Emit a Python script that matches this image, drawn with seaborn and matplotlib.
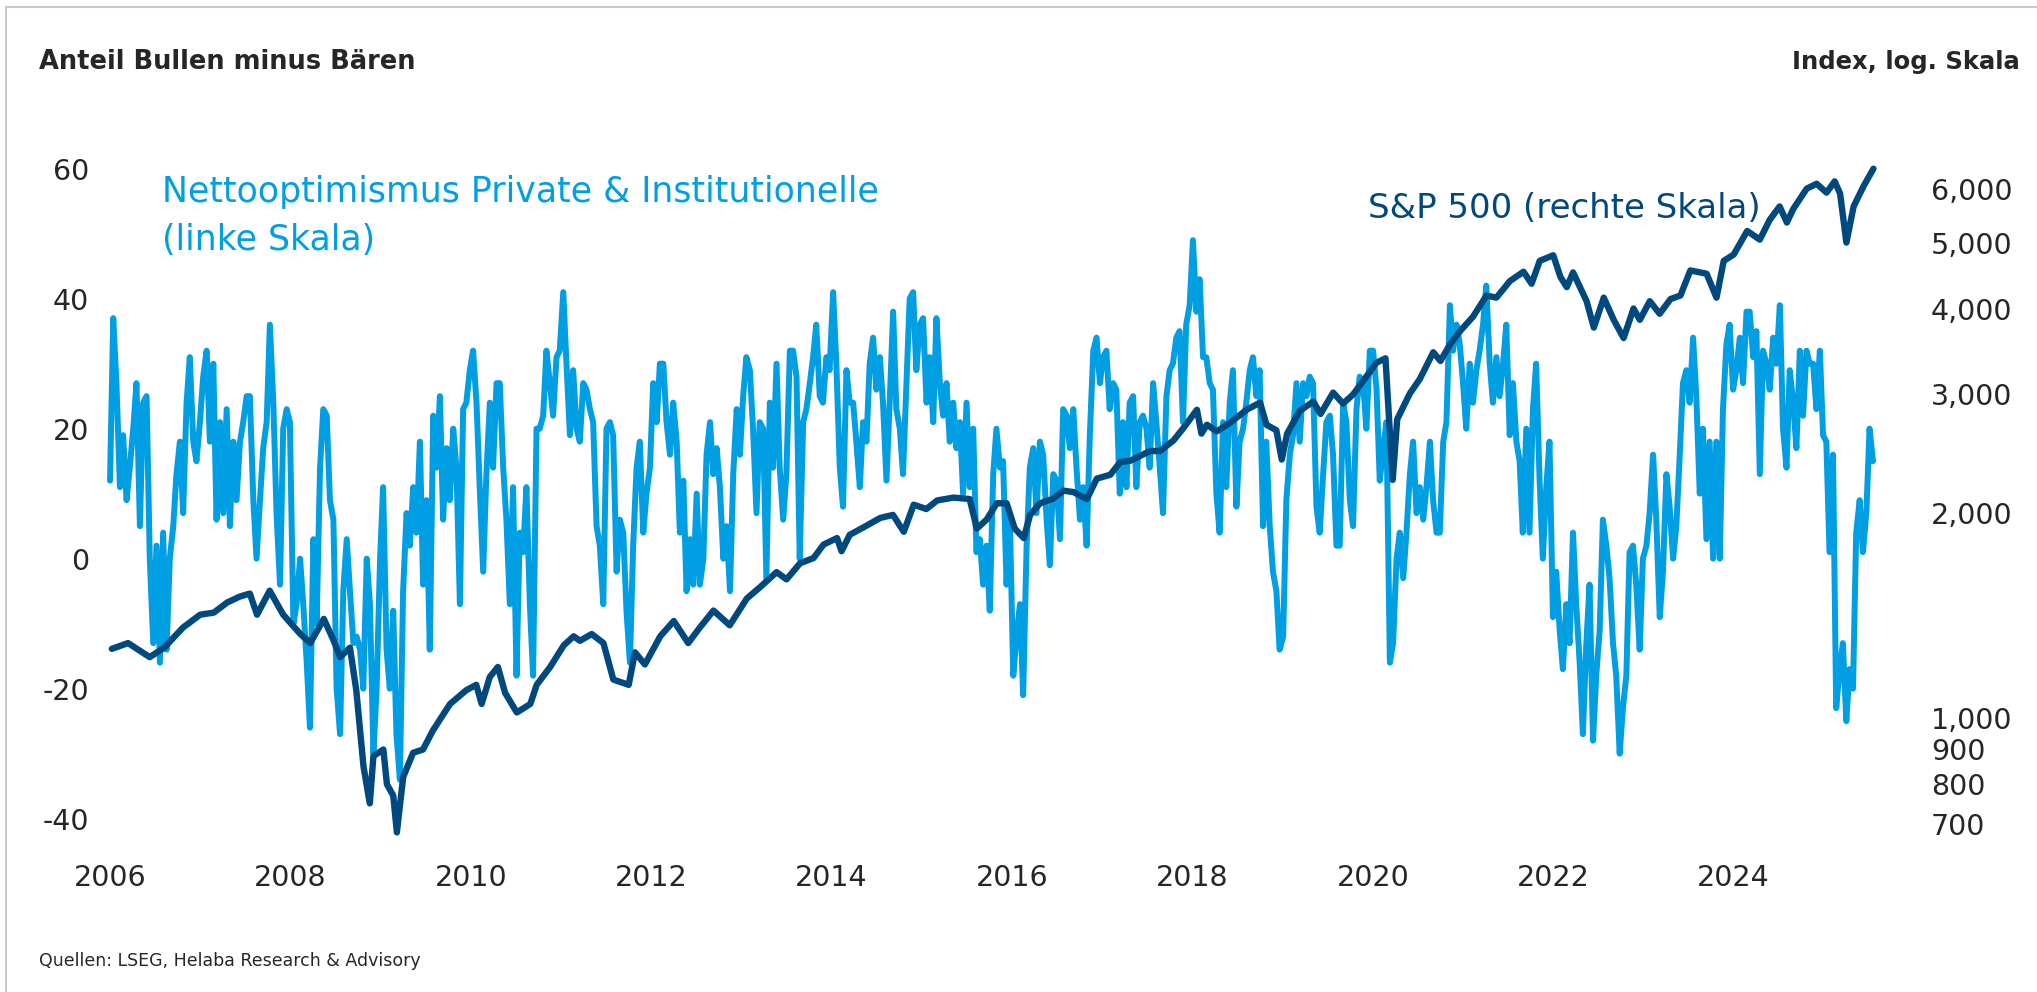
import numpy as np
import pandas as pd
import seaborn as sns
import matplotlib as mpl
import matplotlib.pyplot as plt
from matplotlib import ticker
from matplotlib.lines import Line2D

# === STYLE ===
sns.set_style('white')
mpl.rcParams.update({
    'font.family': ['DejaVu Sans'],
    'font.size': 20,
    'axes.unicode_minus': False,
})
LIGHT = '#009FE3'
DARK = '#00497E'

# === DATA ===
# net optimism (bulls minus bears), roughly biweekly readings
sent_2006_2010 = [
    12, 37, 27, 11, 19, 9, 14, 20, 27, 5,
    24, 25, 0, -13, 2, -16, 4, -14, 0, 5,
    13, 18, 7, 24, 31, 18, 15, 21, 28, 32,
    18, 30, 6, 21, 7, 23, 5, 18, 9, 18,
    21, 25, 25, 9, 0, 9, 17, 21, 36, 24,
    7, -4, 20, 23, 21, -10, -7, 0, -7, -16,
    -26, 3, -10, 14, 23, 22, 9, 6, -20, -27,
    -5, 3, -5, -13, -12, -14, -20, 0, -7, -30,
    -20, 0, 11, -14, -20, -8, -27, -34, -5, 7,
    2, 11, 4, 18, -4, 9, -14, 22, 14, 25,
    6, 17, 9, 20, 14, -7, 23, 24, 29, 32,
    24, 11, -2, 13, 24, 14, 27, 27, 14, 6,
    -7, 11, -18, 4, 1, 11, -7, -18, 20, 20,
    22, 32, 27, 22, 31]
sent_2011_2015 = [
    32, 41, 30, 19, 29, 20, 18, 27, 26, 23,
    21, 5, 2, -7, 20, 21, 19, -2, 6, 4,
    -8, -16, 2, 14, 18, 4, 10, 14, 27, 21,
    30, 30, 21, 16, 24, 18, 4, 12, -5, 3,
    -4, 10, -4, 0, 16, 21, 13, 17, 11, 0,
    5, -5, 13, 23, 16, 25, 31, 29, 20, 7,
    21, 20, -3, 24, 14, 30, 14, 6, 13, 32,
    32, 28, 0, 21, 23, 27, 31, 36, 25, 24,
    31, 29, 41, 30, 14, 8, 29, 24, 24, 18,
    11, 21, 18, 30, 34, 26, 31, 24, 12, 24,
    38, 23, 20, 13, 27, 40, 41, 29, 36, 37,
    24, 31, 21, 37, 27, 22, 27, 18, 24, 17,
    21, 10, 24, 11, 20, 1, 3, -4, 2, -8,
    13, 20, 14, 15, -4, 7, -18, -12]
sent_2016_2020 = [
    -7, -21, 2, 14, 17, 7, 18, 16, 6, -1,
    13, 12, 3, 23, 22, 17, 23, 14, 6, 11,
    2, 19, 32, 34, 27, 31, 32, 23, 27, 26,
    10, 21, 11, 24, 25, 11, 21, 22, 20, 14,
    27, 21, 14, 7, 25, 29, 30, 34, 35, 21,
    36, 39, 49, 38, 43, 31, 31, 27, 26, 10,
    4, 21, 11, 24, 29, 8, 18, 20, 24, 29,
    31, 25, 29, 5, 18, 5, -2, -5, -14, -12,
    9, 16, 19, 27, 18, 27, 25, 28, 27, 8,
    4, 13, 21, 22, 16, 2, 2, 24, 21, 9,
    5, 23, 28, 27, 20, 32, 32, 26, 12, 17,
    21, -16, -13, 0, 4, -3, 4, 13, 18, 7,
    11, 6, 11, 18, 9, 4]
sent_2020_2025 = [
    4, 18, 21, 39, 32, 36, 33, 27, 20, 30,
    24, 29, 32, 36, 42, 30, 24, 31, 25, 30,
    36, 19, 27, 18, 15, 4, 20, 4, 23, 30,
    12, 0, 11, 18, -9, -2, -11, -17, -7, -13,
    4, -7, -16, -27, -13, -4, -28, -18, -11, 6,
    2, -3, -13, -18, -30, -23, -18, 1, 2, -4,
    -14, 0, 2, 7, 16, 6, -9, -2, 13, 8,
    0, 5, 16, 27, 29, 24, 34, 25, 10, 20,
    3, 18, 0, 18, 0, 23, 33, 36, 26, 29,
    34, 27, 38, 38, 31, 35, 13, 32, 30, 26,
    34, 30, 39, 20, 14, 29, 24, 17, 32, 22,
    32, 30, 30, 23, 32, 19, 18, 1, 16, -23,
    -17, -13, -25, -17, -20, 4, 9, 1, 7, 20,
    15]
sent_first, sent_last = '2006-01-01', '2025-07-19'

# S&P 500, decimal year / index level
spx_year = [
    2006.02, 2006.20, 2006.44, 2006.60, 2006.81,
    2007.00, 2007.15, 2007.30, 2007.44, 2007.55, 2007.63, 2007.77, 2007.92,
    2008.11, 2008.22, 2008.37, 2008.48, 2008.55, 2008.66, 2008.73, 2008.81, 2008.88, 2008.92,
    2009.03, 2009.07, 2009.14, 2009.18, 2009.25, 2009.36, 2009.47, 2009.58, 2009.77, 2009.95,
    2010.06, 2010.12, 2010.21, 2010.30, 2010.38, 2010.51, 2010.66, 2010.73, 2010.88,
    2011.03, 2011.14, 2011.21, 2011.34, 2011.47, 2011.58, 2011.75, 2011.82, 2011.93,
    2012.10, 2012.25, 2012.41, 2012.54, 2012.69, 2012.87,
    2013.06, 2013.21, 2013.39, 2013.50, 2013.65, 2013.80, 2013.91,
    2014.06, 2014.11, 2014.20, 2014.39, 2014.54, 2014.68, 2014.80, 2014.91,
    2015.05, 2015.17, 2015.35, 2015.53, 2015.61, 2015.72, 2015.83, 2015.94,
    2016.03, 2016.13, 2016.20, 2016.31, 2016.45, 2016.57, 2016.68, 2016.83, 2016.94,
    2017.09, 2017.20, 2017.31, 2017.42, 2017.53, 2017.64, 2017.79, 2017.90,
    2018.05, 2018.10, 2018.16, 2018.27, 2018.42, 2018.60, 2018.75, 2018.82, 2018.93, 2018.99,
    2019.05, 2019.19, 2019.34, 2019.42, 2019.56, 2019.67, 2019.78, 2019.90,
    2020.04, 2020.14, 2020.22, 2020.27, 2020.41, 2020.52, 2020.67, 2020.75, 2020.86, 2020.97,
    2021.11, 2021.26, 2021.37, 2021.52, 2021.67, 2021.76, 2021.85,
    2022.00, 2022.08, 2022.15, 2022.22, 2022.37, 2022.45, 2022.56, 2022.67, 2022.78, 2022.89, 2022.96,
    2023.07, 2023.18, 2023.30, 2023.41, 2023.52, 2023.70, 2023.81, 2023.89,
    2024.00, 2024.15, 2024.29, 2024.40, 2024.51, 2024.59, 2024.66, 2024.81, 2024.92,
    2025.03, 2025.12, 2025.18, 2025.25, 2025.33, 2025.44, 2025.55]
spx_val = [
    1265, 1290, 1230, 1270, 1360,
    1420, 1430, 1480, 1510, 1525, 1420, 1540, 1420,
    1330, 1290, 1400, 1300, 1230, 1270, 1100, 850, 750, 880,
    900, 800, 770, 680, 820, 890, 900, 960, 1050, 1100,
    1120, 1050, 1150, 1190, 1090, 1020, 1050, 1120, 1190,
    1280, 1320, 1300, 1330, 1290, 1140, 1120, 1250, 1200,
    1320, 1390, 1290, 1360, 1440, 1370,
    1500, 1560, 1640, 1600, 1690, 1720, 1800,
    1840, 1760, 1860, 1920, 1970, 1990, 1880, 2060,
    2030, 2090, 2110, 2100, 1900, 1960, 2070, 2070,
    1900, 1840, 1990, 2070, 2100, 2160, 2150, 2100, 2250,
    2280, 2380, 2390, 2430, 2470, 2470, 2560, 2670,
    2840, 2620, 2700, 2640, 2720, 2840, 2910, 2700, 2650, 2400,
    2620, 2830, 2920, 2800, 3010, 2900, 2990, 3140,
    3330, 3380, 2240, 2750, 3000, 3150, 3450, 3350, 3550, 3710,
    3890, 4180, 4150, 4390, 4530, 4350, 4700,
    4790, 4450, 4300, 4520, 4100, 3750, 4150, 3850, 3620, 4000, 3850,
    4100, 3930, 4130, 4180, 4550, 4500, 4150, 4700,
    4800, 5200, 5050, 5400, 5650, 5350, 5600, 6000, 6100,
    5920, 6150, 5900, 5000, 5650, 6050, 6420]

left_ticks = [-40, -20, 0, 20, 40, 60]
right_ticks = [700, 800, 900, 1000, 2000, 3000, 4000, 5000, 6000]
year_ticks = [2006, 2008, 2010, 2012, 2014, 2016, 2018, 2020, 2022, 2024]

# === FRAMES ===
sent_vals = sent_2006_2010 + sent_2011_2015 + sent_2016_2020 + sent_2020_2025
sent_dates = pd.date_range(sent_first, sent_last, periods=len(sent_vals))
df_sent = pd.DataFrame({
    'year': sent_dates.year + (sent_dates.dayofyear - 1) / 365.25,
    'val': sent_vals,
})
df_spx = pd.DataFrame({'year': spx_year, 'val': spx_val})

# === FIGURE SETUP ===
fig = plt.figure(figsize=(20.37, 9.92), dpi=100)
ax = fig.add_axes([0.0518, 0.1431, 0.8812, 0.7157])
ax2 = ax.twinx()

sns.lineplot(data=df_sent, x='year', y='val', ax=ax, color=LIGHT, lw=4.3)
sns.lineplot(data=df_spx, x='year', y='val', ax=ax2, color=DARK, lw=4.6)

# === AXES ===
ax.set_xlim(2005.95, 2025.85)
ax.set_ylim(-44.83, 64.40)
ax.set_yticks(left_ticks)
ax.set_xticks(year_ticks)
ax.set_xticklabels([str(y) for y in year_ticks])

ax2.set_yscale('log')
ax2.set_ylim(640.5, 7072)
ax2.yaxis.set_major_locator(ticker.FixedLocator(right_ticks))
ax2.yaxis.set_minor_locator(ticker.NullLocator())
ax2.yaxis.set_major_formatter(ticker.FuncFormatter(lambda v, p: f'{int(v):,}'))

for a in (ax, ax2):
    a.set_xlabel('')
    a.set_ylabel('')
    a.grid(False)
    for s in a.spines.values():
        s.set_visible(False)
ax.tick_params(axis='y', length=0, pad=12, labelsize=20.5)
ax.tick_params(axis='x', length=0, pad=10, labelsize=20.5)
ax2.tick_params(axis='y', length=0, pad=22, labelsize=20.5)

# === TEXT ===
fig.text(39/2037, 1 - 62/992, 'Anteil Bullen minus Bären', fontsize=18.5,
         fontweight='bold', ha='left', va='center')
fig.text(2020/2037, 1 - 62/992, 'Index, log. Skala', fontsize=17.5,
         fontweight='bold', ha='right', va='center')
fig.text(162/2037, 1 - 216/992, 'Nettooptimismus Private & Institutionelle\n(linke Skala)',
         fontsize=25, color=LIGHT, ha='left', va='center', linespacing=1.55)
fig.text(1368/2037, 1 - 208/992, 'S&P 500 (rechte Skala)', fontsize=24.5,
         color=DARK, ha='left', va='center')
fig.text(39/2037, 1 - 961/992, 'Quellen: LSEG, Helaba Research & Advisory',
         fontsize=12.5, ha='left', va='center')

# thin grey frame (left + top edge)
fig.add_artist(Line2D([6/2037, 6/2037], [0, 1 - 7/992], color='#C8C8C8', lw=1.5))
fig.add_artist(Line2D([6/2037, 1], [1 - 7/992, 1 - 7/992], color='#C8C8C8', lw=1.5))

fig.savefig('out.png', dpi=100)
